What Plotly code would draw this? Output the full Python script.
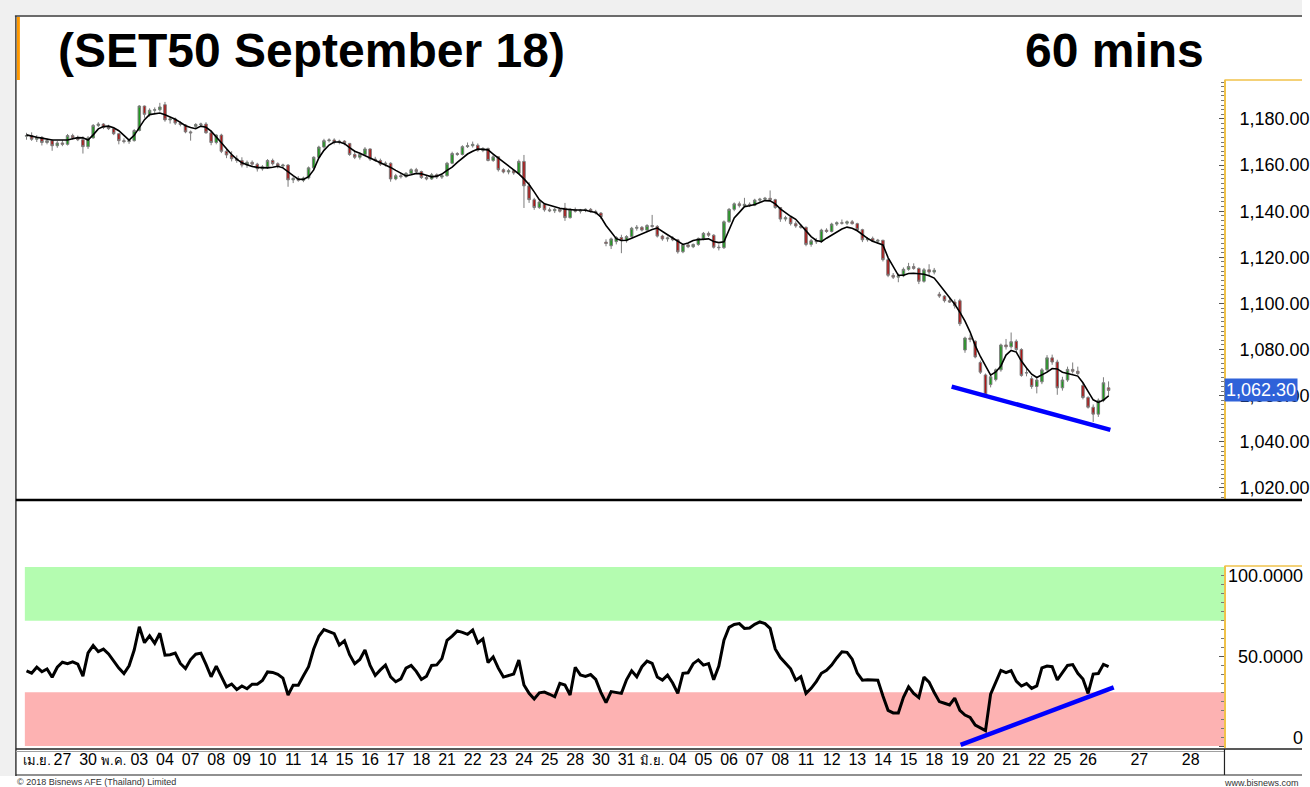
import numpy as np
import plotly.graph_objects as go

# ---------------- data ----------------
BARS_PER_DAY = 5          # hourly bars per trading session (approx.)
LABEL_OFFSET = 0.4        # day labels sit mid-session

opens = [
    1172.5, 1172.8, 1171.2, 1172.0, 1169.8, 1170.6, 1168.4, 1169.6, 1169.0, 1172.8,
    1171.8, 1171.0, 1168.0, 1171.8, 1177.2, 1177.8, 1176.4, 1175.8, 1173.6, 1170.6,
    1170.2, 1170.6, 1175.0, 1185.6, 1182.0, 1183.8, 1184.0, 1186.2, 1179.6, 1180.0,
    1178.2, 1177.4, 1174.4, 1176.8, 1177.6, 1177.8, 1174.0, 1169.8, 1173.0, 1166.0,
    1164.4, 1162.8, 1162.0, 1160.0, 1161.2, 1160.4, 1158.4, 1159.2, 1162.0, 1160.6,
    1159.6, 1160.0, 1153.6, 1154.2, 1153.4, 1154.4, 1158.8, 1163.4, 1167.8, 1170.6,
    1170.9, 1169.8, 1170.4, 1169.4, 1164.6, 1163.4, 1164.6, 1167.0, 1162.6, 1162.0,
    1160.4, 1160.8, 1154.0, 1155.4, 1155.0, 1156.4, 1158.0, 1157.2, 1154.6, 1154.0,
    1155.8, 1154.8, 1155.4, 1160.8, 1165.0, 1164.6, 1168.0, 1168.4, 1168.6, 1166.4,
    1167.2, 1162.0, 1163.6, 1158.0, 1157.0, 1157.6, 1156.4, 1161.6, 1151.0, 1145.0,
    1141.6, 1143.0, 1140.6, 1140.2, 1140.8, 1141.4, 1137.2, 1140.6, 1140.0, 1140.4,
    1140.8, 1139.8, 1139.2, 1126.6, 1125.0, 1126.8, 1128.6, 1127.2, 1129.0, 1132.6,
    1133.0, 1131.8, 1133.8, 1133.4, 1129.2, 1128.0, 1128.4, 1127.6, 1122.4, 1125.4,
    1124.6, 1125.6, 1128.2, 1130.4, 1129.6, 1124.4, 1124.2, 1135.4, 1140.8, 1143.2,
    1142.4, 1143.0, 1142.6, 1144.8, 1145.2, 1145.6, 1145.0, 1141.6, 1136.6, 1137.2,
    1134.6, 1133.6, 1133.0, 1125.6, 1127.2, 1126.8, 1131.8, 1131.2, 1134.4, 1135.0,
    1134.8, 1135.4, 1134.6, 1132.0, 1127.6, 1128.2, 1127.0, 1127.4, 1119.0, 1112.2,
    1111.4, 1112.0, 1114.8, 1116.0, 1115.2, 1109.6, 1114.6, 1113.6, 1104.0, 1103.2,
    1101.2, 1100.6, 1101.2, 1079.8, 1085.0, 1083.6, 1074.4, 1069.0, 1064.8, 1067.0,
    1071.2, 1082.0, 1081.2, 1083.6, 1080.0, 1069.8, 1067.4, 1064.0, 1066.0, 1071.2,
    1076.4, 1074.6, 1063.4, 1066.8, 1071.4, 1070.6, 1064.4, 1059.2, 1055.0, 1052.0,
    1058.0, 1063.4,
]
highs = [
    1174.0, 1174.2, 1173.0, 1172.6, 1171.5, 1171.2, 1170.5, 1170.8, 1173.5, 1173.6,
    1172.8, 1172.5, 1172.6, 1177.8, 1178.6, 1178.2, 1177.5, 1176.2, 1173.8, 1171.6,
    1171.0, 1175.6, 1186.0, 1185.8, 1184.6, 1185.0, 1187.0, 1187.4, 1180.8, 1180.6,
    1179.0, 1177.8, 1175.0, 1178.2, 1178.4, 1178.6, 1175.0, 1173.4, 1173.6, 1167.5,
    1166.0, 1164.2, 1163.4, 1162.0, 1162.0, 1161.0, 1160.0, 1162.6, 1162.8, 1161.2,
    1160.6, 1160.4, 1155.0, 1155.2, 1155.0, 1159.4, 1163.8, 1168.4, 1171.4, 1171.6,
    1171.6, 1171.0, 1170.8, 1169.6, 1166.4, 1165.4, 1167.8, 1167.2, 1163.6, 1162.8,
    1161.6, 1161.2, 1156.2, 1156.4, 1157.0, 1158.6, 1158.8, 1157.6, 1155.6, 1156.6,
    1156.4, 1156.0, 1161.4, 1165.8, 1165.6, 1168.6, 1169.8, 1170.2, 1169.4, 1167.8,
    1167.6, 1164.6, 1163.8, 1158.6, 1158.4, 1158.0, 1162.4, 1164.4, 1152.6, 1145.8,
    1144.6, 1143.6, 1141.6, 1141.4, 1141.4, 1143.6, 1141.4, 1141.6, 1141.0, 1141.2,
    1141.4, 1140.6, 1139.6, 1127.8, 1128.6, 1129.2, 1129.8, 1129.6, 1133.2, 1134.0,
    1133.6, 1134.4, 1138.4, 1134.0, 1129.8, 1129.0, 1129.2, 1128.0, 1126.0, 1126.2,
    1126.0, 1128.6, 1131.0, 1131.2, 1130.0, 1125.6, 1136.0, 1141.4, 1143.8, 1144.2,
    1145.8, 1143.8, 1145.4, 1145.8, 1146.2, 1149.0, 1145.4, 1141.8, 1138.0, 1137.6,
    1135.6, 1134.4, 1133.4, 1128.0, 1128.4, 1132.4, 1132.6, 1135.0, 1135.6, 1136.4,
    1136.0, 1136.2, 1135.0, 1132.4, 1128.8, 1129.0, 1128.0, 1127.6, 1119.6, 1113.2,
    1113.0, 1115.6, 1117.6, 1117.4, 1115.6, 1115.4, 1117.0, 1115.4, 1105.0, 1103.6,
    1102.6, 1101.8, 1102.0, 1085.6, 1086.6, 1084.0, 1075.2, 1069.6, 1069.6, 1071.8,
    1082.6, 1084.6, 1087.4, 1084.4, 1080.6, 1072.4, 1068.6, 1067.6, 1072.0, 1077.6,
    1077.8, 1075.6, 1068.2, 1072.6, 1074.4, 1072.6, 1065.4, 1059.8, 1056.2, 1058.8,
    1068.0, 1066.2,
]
lows = [
    1171.0, 1170.5, 1170.0, 1168.5, 1169.0, 1166.2, 1167.5, 1168.2, 1168.5, 1171.0,
    1170.4, 1165.0, 1167.0, 1171.5, 1176.5, 1175.6, 1175.2, 1173.0, 1169.0, 1169.4,
    1169.2, 1170.2, 1174.6, 1180.5, 1181.0, 1182.4, 1183.2, 1178.8, 1178.0, 1177.4,
    1176.8, 1173.8, 1170.6, 1176.0, 1176.8, 1173.6, 1168.6, 1169.0, 1165.2, 1163.0,
    1161.6, 1161.0, 1159.0, 1158.8, 1159.6, 1157.2, 1157.6, 1158.4, 1159.8, 1158.6,
    1158.8, 1150.6, 1152.2, 1152.8, 1152.6, 1153.8, 1158.0, 1162.8, 1167.2, 1169.8,
    1169.0, 1169.0, 1168.6, 1164.0, 1162.6, 1162.4, 1164.0, 1161.8, 1161.4, 1159.6,
    1159.4, 1152.8, 1153.4, 1154.2, 1154.4, 1155.8, 1156.6, 1154.0, 1153.4, 1153.6,
    1154.0, 1154.0, 1155.0, 1160.4, 1164.0, 1164.2, 1167.4, 1167.6, 1165.8, 1165.6,
    1161.6, 1161.4, 1157.2, 1156.4, 1156.0, 1155.8, 1156.0, 1141.4, 1143.6, 1140.6,
    1141.0, 1139.8, 1139.6, 1139.2, 1139.4, 1135.8, 1136.8, 1139.4, 1139.0, 1139.6,
    1139.4, 1138.6, 1136.6, 1124.8, 1123.6, 1125.6, 1121.8, 1126.4, 1128.6, 1131.6,
    1131.2, 1131.2, 1132.8, 1128.6, 1127.2, 1126.8, 1127.0, 1121.6, 1121.8, 1124.0,
    1124.0, 1125.0, 1127.4, 1128.8, 1123.8, 1123.0, 1123.6, 1135.0, 1140.0, 1141.6,
    1141.8, 1141.8, 1142.2, 1144.0, 1144.4, 1144.6, 1141.0, 1135.4, 1135.6, 1133.8,
    1132.8, 1132.4, 1124.8, 1124.6, 1125.8, 1126.2, 1130.6, 1130.8, 1133.6, 1134.2,
    1134.0, 1134.2, 1131.4, 1126.6, 1126.8, 1126.6, 1125.8, 1118.2, 1111.4, 1110.6,
    1109.2, 1111.4, 1114.2, 1114.6, 1108.4, 1109.0, 1112.2, 1112.6, 1102.4, 1100.4,
    1100.2, 1097.8, 1090.2, 1078.6, 1083.2, 1076.2, 1069.4, 1059.0, 1063.6, 1066.2,
    1070.4, 1080.0, 1080.4, 1079.0, 1068.2, 1068.4, 1063.0, 1061.0, 1065.0, 1070.4,
    1073.4, 1060.4, 1062.2, 1066.0, 1069.6, 1069.0, 1058.4, 1054.4, 1048.6, 1050.8,
    1057.2, 1059.6,
]
closes = [
    1172.8, 1171.2, 1172.0, 1169.8, 1170.6, 1168.4, 1169.6, 1169.0, 1172.8, 1171.8,
    1171.0, 1168.0, 1171.8, 1177.2, 1177.8, 1176.4, 1175.8, 1173.6, 1170.6, 1170.2,
    1170.6, 1175.0, 1185.6, 1182.0, 1183.8, 1184.0, 1185.2, 1179.6, 1180.0, 1178.2,
    1177.6, 1174.4, 1174.0, 1177.6, 1177.8, 1174.0, 1169.8, 1173.0, 1166.0, 1164.4,
    1162.8, 1162.0, 1160.0, 1161.2, 1160.4, 1158.4, 1159.2, 1162.0, 1160.6, 1159.6,
    1160.0, 1153.6, 1154.2, 1153.4, 1154.4, 1158.8, 1163.4, 1167.8, 1170.6, 1170.9,
    1169.8, 1170.4, 1169.4, 1164.6, 1163.4, 1164.6, 1167.0, 1162.6, 1162.0, 1160.4,
    1160.8, 1154.0, 1155.4, 1155.0, 1156.4, 1158.0, 1157.2, 1154.6, 1154.0, 1155.8,
    1154.8, 1155.4, 1160.8, 1165.0, 1164.6, 1168.0, 1168.4, 1169.0, 1166.4, 1167.2,
    1162.0, 1163.6, 1158.0, 1157.0, 1157.6, 1156.6, 1161.6, 1151.0, 1145.0, 1141.6,
    1144.0, 1140.6, 1140.2, 1140.8, 1140.0, 1137.2, 1140.6, 1140.0, 1140.4, 1140.8,
    1139.8, 1139.2, 1137.6, 1126.0, 1128.0, 1128.6, 1127.2, 1129.0, 1132.6, 1133.0,
    1131.8, 1133.8, 1133.4, 1129.2, 1128.0, 1128.4, 1127.6, 1122.4, 1125.4, 1124.6,
    1125.6, 1128.2, 1130.4, 1129.6, 1124.4, 1124.2, 1135.4, 1140.8, 1143.2, 1142.4,
    1143.0, 1142.6, 1144.8, 1145.2, 1145.6, 1145.0, 1141.6, 1136.6, 1137.2, 1134.6,
    1133.6, 1133.0, 1125.6, 1127.2, 1126.8, 1131.8, 1131.2, 1134.4, 1135.0, 1134.8,
    1135.4, 1134.6, 1132.0, 1127.6, 1128.2, 1127.0, 1127.4, 1119.0, 1112.2, 1111.4,
    1112.0, 1114.8, 1116.0, 1115.2, 1109.6, 1114.6, 1113.6, 1114.4, 1103.2, 1101.2,
    1100.6, 1099.0, 1091.2, 1085.0, 1084.4, 1076.8, 1070.2, 1060.4, 1068.2, 1071.2,
    1082.0, 1081.2, 1083.4, 1080.0, 1068.8, 1070.0, 1064.0, 1066.8, 1071.2, 1076.4,
    1074.6, 1063.4, 1066.8, 1071.4, 1070.6, 1069.6, 1059.2, 1055.0, 1052.0, 1058.0,
    1065.6, 1062.3,
]
ma_values = [
    1173.1, 1172.5, 1172.1, 1171.7, 1171.2, 1170.9, 1170.9, 1170.9, 1170.9, 1171.4,
    1171.9, 1171.8, 1170.9, 1173.1, 1175.7, 1176.7, 1176.9, 1176.2, 1174.9, 1172.9,
    1170.8, 1172.9, 1176.3, 1179.7, 1181.9, 1182.2, 1182.6, 1181.8, 1181.0, 1179.9,
    1178.5, 1177.1, 1176.3, 1175.8, 1176.9, 1176.4, 1174.7, 1172.4, 1169.7, 1167.1,
    1164.6, 1162.6, 1161.0, 1160.2, 1159.4, 1159.0, 1158.9, 1158.8, 1159.1, 1159.5,
    1158.8, 1156.9, 1155.4, 1153.9, 1153.8, 1155.0, 1157.9, 1163.1, 1166.4, 1168.7,
    1170.0, 1170.0, 1169.3, 1167.6, 1166.0, 1165.1, 1164.1, 1163.2, 1162.1, 1161.1,
    1160.0, 1159.0, 1157.7, 1156.5, 1155.3, 1155.8, 1156.4, 1156.2, 1155.5, 1154.9,
    1155.2, 1156.1, 1157.7, 1159.1, 1161.2, 1163.2, 1164.8, 1166.0, 1167.0, 1166.8,
    1166.6, 1164.8, 1163.1, 1161.0, 1159.3, 1157.8, 1156.2, 1154.0, 1151.6, 1148.4,
    1145.0, 1143.2, 1142.5, 1141.8, 1141.3, 1140.9, 1140.6, 1140.5, 1140.5, 1140.4,
    1139.9, 1139.4, 1137.5, 1133.8, 1131.0, 1128.1, 1127.3, 1127.4, 1128.3, 1129.3,
    1130.3, 1131.3, 1132.1, 1132.7, 1131.4, 1129.8, 1128.4, 1127.1, 1125.6, 1126.2,
    1127.3, 1127.7, 1128.0, 1128.0, 1126.9, 1126.4, 1126.7, 1131.9, 1137.1, 1139.5,
    1142.0, 1142.4, 1142.9, 1143.8, 1144.6, 1144.5, 1143.2, 1141.0, 1139.2, 1137.8,
    1136.5, 1134.0, 1131.7, 1129.0, 1127.3, 1126.8, 1128.3, 1129.7, 1131.0, 1132.3,
    1133.1, 1132.6, 1131.5, 1129.9, 1128.2, 1127.0, 1126.3, 1125.4, 1119.9, 1115.9,
    1112.2, 1112.2, 1113.0, 1113.1, 1113.0, 1112.7, 1112.0, 1111.0, 1108.2, 1105.4,
    1102.5, 1099.7, 1096.2, 1092.3, 1087.6, 1081.7, 1077.0, 1072.7, 1068.9, 1070.3,
    1072.9, 1077.6, 1079.6, 1078.9, 1075.0, 1072.0, 1069.3, 1067.9, 1068.9, 1070.2,
    1071.8, 1071.6, 1070.2, 1069.5, 1069.1, 1068.5, 1065.6, 1061.9, 1058.2, 1057.1,
    1058.1, 1059.9,
]
rsi_values = [
    42, 40.7, 44, 41.5, 43, 38.4, 44, 46.8, 46, 47,
    45.7, 39, 52, 56.1, 52.7, 54.1, 51.4, 47.2, 43.5, 40.5,
    44.8, 53.6, 66.6, 57.7, 61.5, 57.4, 63, 50.8, 51, 51.9,
    46.1, 43.3, 48.3, 51.3, 51.9, 45.6, 38.7, 44.6, 38.6, 33,
    34.6, 31.5, 33.5, 32, 34.5, 34.5, 36.6, 41.4, 41.1, 40,
    37.9, 28.5, 34, 34, 39.2, 44.3, 54.2, 61.3, 65, 64,
    62.8, 56.4, 58.8, 51, 46, 48.3, 53.6, 45, 39.4, 42.5,
    45.2, 38.6, 35.9, 37.5, 43.5, 45, 41.7, 37.2, 39, 45,
    45.3, 48.8, 59, 61.4, 64.3, 63.5, 62.4, 64.8, 57.6, 59.8,
    46.6, 49.8, 43.5, 38.5, 39.4, 40.2, 48, 34.1, 29.4, 26.3,
    29.7, 30.1, 28.9, 27.5, 35, 34.1, 28.5, 44, 39.7, 38.9,
    39.9, 37.2, 30, 24.2, 30.4, 29.9, 29.4, 37, 42, 38.7,
    44.3, 47.4, 46.2, 38.5, 36.8, 39.6, 35.2, 29.4, 40.6, 40.9,
    46, 48.1, 45.2, 46, 37, 44.7, 59.1, 66.3, 67.9, 68.4,
    65.7, 65.9, 68, 69.3, 68.4, 65.7, 54.2, 49.4, 46.2, 43.1,
    36.8, 38.7, 29.4, 32.2, 36, 40.6, 42.3, 45.2, 49.2, 52.6,
    52.3, 48.5, 40.7, 36.8, 37, 36.9, 36.8, 27.9, 19.9, 18.5,
    18.5, 27.2, 33.1, 29.4, 27, 38.5, 35.7, 29.9, 24.8, 23.9,
    22.9, 26.7, 19.9, 17.3, 16, 11.7, 10.3, 8.6, 29, 35.2,
    42.2, 41, 42.1, 36.2, 33.5, 34.9, 32.2, 33.6, 43.6, 44.7,
    44.3, 36.9, 40.9, 45, 45.5, 40.6, 37.4, 29.4, 40.2, 40.5,
    45.6, 44.3,
]

day_index = list(range(42)) + [43, 45]
day_labels = ['เม.ย.', '27', '30', 'พ.ค.', '03', '04', '07', '08', '09', '10', '11',
              '14', '15', '16', '17', '18', '21', '22', '23', '24', '25', '28',
              '30', '31', 'มิ.ย.', '04', '05', '06', '07', '08', '11', '12', '13',
              '14', '15', '18', '19', '20', '21', '22', '25', '26', '27', '28']
month_labels = {'เม.ย.', 'พ.ค.', 'มิ.ย.'}

price_ticks = [1020, 1040, 1060, 1080, 1100, 1120, 1140, 1160, 1180]
rsi_ticks = [0, 50, 100]
rsi_tick_text = ['0', '50.0000', '100.0000']
overbought = [70, 100]
oversold = [0, 30]

# hand-drawn divergence lines (day units, value units)
price_trend_x = [36.08, 42.27]
price_trend_y = [1063.9, 1045.2]
rsi_trend_x = [36.43, 42.40]
rsi_trend_y = [0.6, 32.8]

# ---------------- figure ----------------
W, H = 1310, 787


def px_x(p):
    return p / W


def px_y(p):
    return 1 - p / H


bar_x = np.arange(len(closes)) / BARS_PER_DAY
tick_x = np.array(day_index) + LABEL_OFFSET
tick_text = [f'<span style="font-size:13px">{t}</span>' if t in month_labels else t
             for t in day_labels]
X_RANGE = [-0.375, 46.72]

fig = go.Figure()

fig.add_trace(go.Candlestick(
    x=bar_x, open=opens, high=highs, low=lows, close=closes,
    increasing=dict(line=dict(color='#7c7c7c', width=1), fillcolor='#1f9a1f'),
    decreasing=dict(line=dict(color='#7c7c7c', width=1), fillcolor='#ad1717'),
    whiskerwidth=0, showlegend=False, hoverinfo='skip', xaxis='x', yaxis='y'))

fig.add_trace(go.Scatter(x=bar_x, y=ma_values, mode='lines',
                         line=dict(color='#000000', width=1.6),
                         showlegend=False, hoverinfo='skip', xaxis='x', yaxis='y'))

fig.add_trace(go.Scatter(x=price_trend_x, y=price_trend_y, mode='lines',
                         line=dict(color='#0000ff', width=4.5),
                         showlegend=False, hoverinfo='skip', xaxis='x', yaxis='y'))

fig.add_trace(go.Scatter(x=bar_x, y=rsi_values, mode='lines',
                         line=dict(color='#000000', width=3),
                         showlegend=False, hoverinfo='skip', xaxis='x2', yaxis='y2'))

fig.add_trace(go.Scatter(x=rsi_trend_x, y=rsi_trend_y, mode='lines',
                         line=dict(color='#0000ff', width=4.5),
                         showlegend=False, hoverinfo='skip', xaxis='x2', yaxis='y2'))

x_dom = [px_x(17), px_x(1232)]
FONT = 'Liberation Sans, Arial, Noto Sans, DejaVu Sans, sans-serif'

fig.update_layout(
    width=W, height=H,
    margin=dict(l=0, r=0, t=0, b=0),
    paper_bgcolor='white', plot_bgcolor='white',
    font=dict(family=FONT, color='#000000'),
    showlegend=False,
    xaxis=dict(domain=x_dom, range=X_RANGE, anchor='y', showticklabels=False,
               showgrid=False, zeroline=False, showline=False, ticks='',
               rangeslider=dict(visible=False), fixedrange=True),
    yaxis=dict(domain=[px_y(499), px_y(80)], range=[1015.2, 1196.9], side='right',
               anchor='x', tickvals=price_ticks, tickformat=',.2f',
               tickfont=dict(size=18, family=FONT, color='#000000'),
               showgrid=False, zeroline=False, showline=True,
               linecolor='#f0c24a', linewidth=1.5,
               ticks='inside', ticklen=5, tickcolor='#555555', tickwidth=1,
               ticklabelstandoff=10,
               minor=dict(ticks='inside', ticklen=3, dtick=2, tickcolor='#777777'),
               fixedrange=True),
    xaxis2=dict(domain=x_dom, range=X_RANGE, anchor='y2', tickvals=tick_x,
                ticktext=tick_text, tickangle=0,
                tickfont=dict(size=16, family=FONT, color='#000000'),
                showgrid=False, zeroline=False, showline=False,
                ticks='', fixedrange=True),
    yaxis2=dict(domain=[px_y(748), px_y(566)], range=[-1.12, 100.56], side='right',
                anchor='x2', tickvals=rsi_ticks, showticklabels=False,
                showgrid=False, zeroline=False, showline=True,
                linecolor='#f0c24a', linewidth=1.5,
                ticks='inside', ticklen=5, tickcolor='#555555',
                minor=dict(ticks='inside', ticklen=3, dtick=5, tickcolor='#777777'),
                fixedrange=True),
)

shapes = []
# gray window chrome
shapes.append(dict(type='rect', xref='paper', yref='paper', x0=0, x1=1,
                   y0=px_y(15), y1=1, fillcolor='#f0f0f0', line=dict(width=0),
                   layer='below'))
shapes.append(dict(type='rect', xref='paper', yref='paper', x0=0, x1=px_x(15),
                   y0=px_y(776), y1=1, fillcolor='#f0f0f0', line=dict(width=0),
                   layer='below'))
# frame lines
shapes.append(dict(type='line', xref='paper', yref='paper', x0=px_x(15), x1=1,
                   y0=px_y(16), y1=px_y(16), line=dict(color='#3a3a3a', width=1.5)))
shapes.append(dict(type='line', xref='paper', yref='paper', x0=px_x(16), x1=px_x(16),
                   y0=px_y(16), y1=px_y(776), line=dict(color='#3a3a3a', width=1.5)))
# orange marker
shapes.append(dict(type='rect', xref='paper', yref='paper', x0=px_x(17), x1=px_x(20),
                   y0=px_y(80), y1=px_y(17), fillcolor='#ff9900', line=dict(width=0)))
# yellow caps of the value scales
shapes.append(dict(type='line', xref='paper', yref='paper', x0=px_x(1232), x1=1,
                   y0=px_y(80), y1=px_y(80), line=dict(color='#f0c24a', width=1.5)))
shapes.append(dict(type='line', xref='paper', yref='paper', x0=px_x(1232), x1=1,
                   y0=px_y(566), y1=px_y(566), line=dict(color='#f0c24a', width=1.5)))
# pane separator
shapes.append(dict(type='line', xref='paper', yref='paper', x0=px_x(16), x1=1,
                   y0=px_y(500), y1=px_y(500), line=dict(color='#000000', width=2.5)))
# time scale box
shapes.append(dict(type='line', xref='paper', yref='paper', x0=px_x(16), x1=1,
                   y0=px_y(749), y1=px_y(749), line=dict(color='#222222', width=1.5)))
shapes.append(dict(type='line', xref='paper', yref='paper', x0=px_x(16), x1=px_x(1232),
                   y0=px_y(751.5), y1=px_y(751.5), line=dict(color='#a0a0a0', width=1)))
shapes.append(dict(type='line', xref='paper', yref='paper', x0=px_x(16), x1=1,
                   y0=px_y(775), y1=px_y(775), line=dict(color='#222222', width=1.2)))
shapes.append(dict(type='line', xref='paper', yref='paper', x0=px_x(1232), x1=px_x(1232),
                   y0=px_y(749), y1=px_y(775), line=dict(color='#222222', width=1.2)))
# RSI zones
shapes.append(dict(type='rect', xref='x2 domain', yref='y2',
                   x0=(25 - 17) / (1232 - 17), x1=1, y0=overbought[0], y1=overbought[1],
                   fillcolor='#b4fcb0', line=dict(width=0), layer='below'))
shapes.append(dict(type='rect', xref='x2 domain', yref='y2',
                   x0=(25 - 17) / (1232 - 17), x1=1, y0=oversold[0], y1=oversold[1],
                   fillcolor='#fdb2b2', line=dict(width=0), layer='below'))
fig.update_layout(shapes=shapes)

annotations = [
    dict(text='<b>(SET50 September 18)</b>', xref='paper', yref='paper',
         x=px_x(56), y=px_y(50), xanchor='left', yanchor='middle', showarrow=False,
         font=dict(size=48, family=FONT, color='#000000')),
    dict(text='<b>60 mins</b>', xref='paper', yref='paper',
         x=px_x(1213), y=px_y(50), xanchor='right', yanchor='middle', showarrow=False,
         font=dict(size=48, family=FONT, color='#000000')),
    dict(text=f'{closes[-1]:,.2f}', xref='paper', yref='y',
         x=px_x(1232), y=closes[-1], xanchor='left', yanchor='middle', showarrow=False,
         bgcolor='#2f62d9', borderpad=1,
         font=dict(size=18, family=FONT, color='#ffffff')),
    dict(text='© 2018 Bisnews AFE (Thailand) Limited', xref='paper', yref='paper',
         x=px_x(15), y=px_y(782), xanchor='left', yanchor='middle', showarrow=False,
         font=dict(size=9, family=FONT, color='#333333')),
    dict(text='www.bisnews.com', xref='paper', yref='paper',
         x=px_x(1309), y=px_y(783), xanchor='right', yanchor='middle', showarrow=False,
         font=dict(size=9, family=FONT, color='#333333')),
]
rsi_label_shift = {100: -9, 50: 0, 0: 8}
for v, t in zip(rsi_ticks, rsi_tick_text):
    annotations.append(dict(text=t, xref='paper', yref='y2', x=px_x(1313), y=v,
                            xanchor='right', yanchor='middle', showarrow=False,
                            yshift=rsi_label_shift[v],
                            font=dict(size=18, family=FONT, color='#000000')))
fig.update_layout(annotations=annotations)

fig.write_html('out.html', include_plotlyjs=True, full_html=True,
               config=dict(displayModeBar=False, staticPlot=True),
               post_script="document.body.style.margin='0px';")
